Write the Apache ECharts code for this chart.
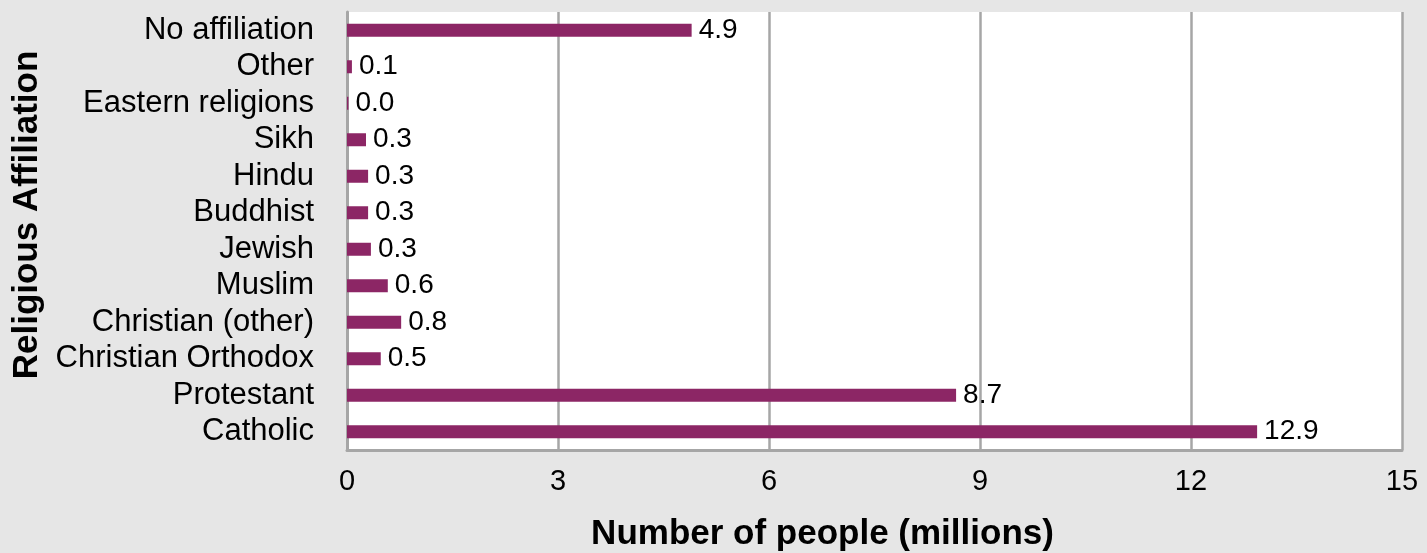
<!DOCTYPE html>
<html>
<head>
<meta charset="utf-8">
<script src="https://cdn.jsdelivr.net/npm/echarts@6/dist/echarts.min.js"></script>
<style>
html, body { margin: 0; padding: 0; background: #e6e6e6; }
#main { width: 1427px; height: 553px; }
</style>
</head>
<body>
<div id="main"></div>
<script>
// categories top to bottom
var categories = ['No affiliation', 'Other', 'Eastern religions', 'Sikh', 'Hindu', 'Buddhist',
    'Jewish', 'Muslim', 'Christian (other)', 'Christian Orthodox', 'Protestant', 'Catholic'];
// millions of people
var values = [4.9, 0.07, 0.02, 0.27, 0.3, 0.3, 0.34, 0.58, 0.77, 0.48, 8.66, 12.94];
var xTicks = [0, 3, 6, 9, 12, 15];

var font = '"Liberation Sans", Arial, Helvetica, sans-serif';
var gridGray = '#a6a6a6';

var myChart = echarts.init(document.getElementById('main'));
myChart.setOption({
    backgroundColor: '#e6e6e6',
    animation: false,
    grid: {
        left: 347,
        right: 25,
        top: 12,
        bottom: 103,
        outerBoundsMode: 'none',
        containLabel: false,
        show: true,
        backgroundColor: '#ffffff',
        borderWidth: 0
    },
    xAxis: {
        type: 'value',
        min: xTicks[0],
        max: xTicks[xTicks.length - 1],
        interval: 3,
        name: 'Number of people (millions)',
        nameLocation: 'middle',
        nameGap: 67,
        nameTextStyle: {
            fontFamily: font, fontSize: 35, fontWeight: 'bold', color: '#000',
            padding: [0, 104, 0, 0]   // title sits left of the plot centre
        },
        axisLine: { show: true, lineStyle: { color: gridGray, width: 3 } },
        axisTick: { show: false },
        axisLabel: { fontFamily: font, fontSize: 29, color: '#000', margin: 17 },
        splitLine: { show: true, lineStyle: { color: gridGray, width: 2.5 } }
    },
    yAxis: {
        type: 'category',
        data: categories,
        inverse: true,
        name: 'Religious Affiliation',
        nameLocation: 'middle',
        nameRotate: 90,
        nameGap: 297,
        nameTextStyle: {
            fontFamily: font, fontSize: 35, fontWeight: 'bold', color: '#000',
            padding: [0, 0, 0, 32]
        },
        axisLine: { show: true, lineStyle: { color: gridGray, width: 3 } },
        axisTick: { show: false },
        axisLabel: { interval: 0, fontFamily: font, fontSize: 31, color: '#000', margin: 33 },
        splitLine: { show: false }
    },
    series: [{
        type: 'bar',
        data: values,
        barWidth: 13,
        itemStyle: { color: '#8c2665' },
        label: {
            show: true,
            position: 'right',
            distance: 7,
            fontFamily: font,
            fontSize: 28,
            color: '#000',
            formatter: function (p) { return p.value.toFixed(1); }
        }
    }]
});
</script>
</body>
</html>
